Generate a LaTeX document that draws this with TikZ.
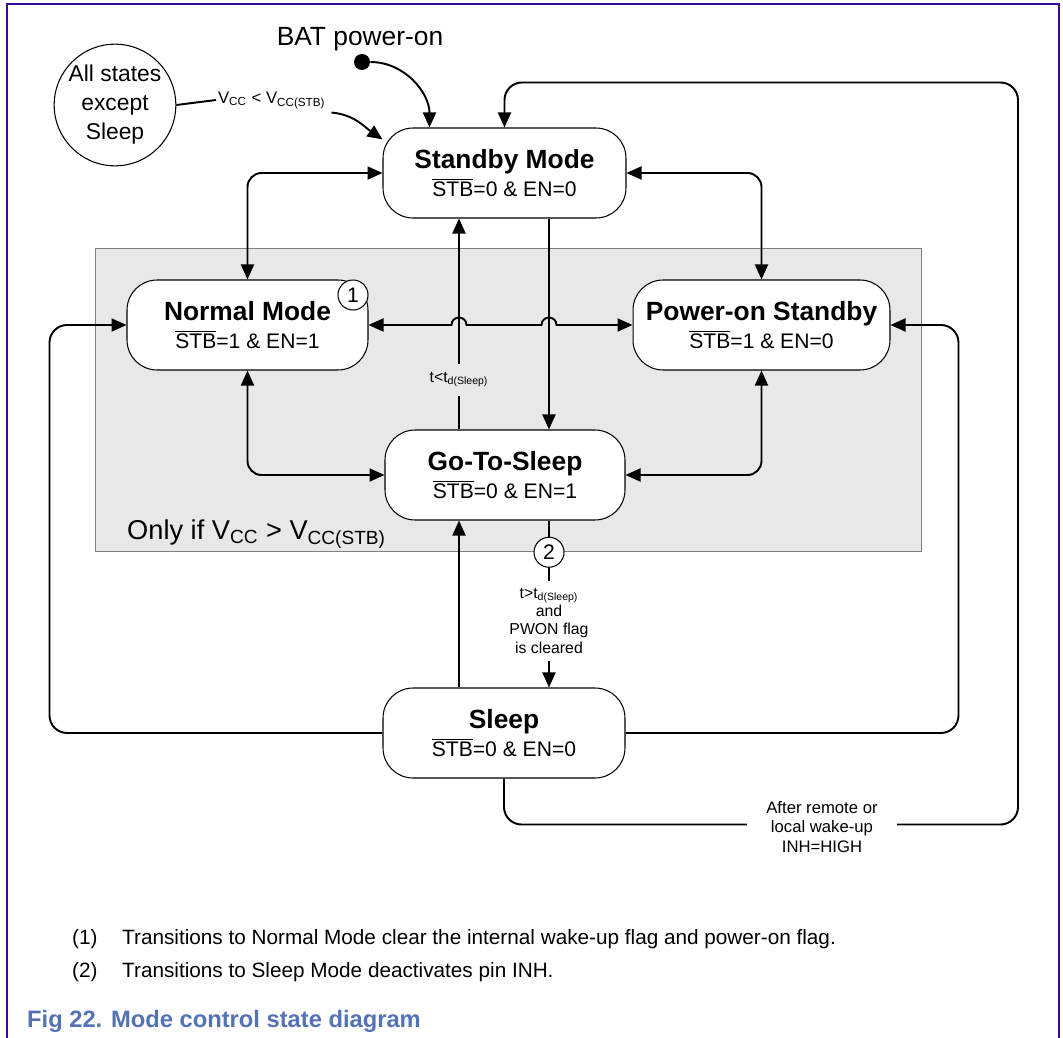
\documentclass[tikz,border=0pt]{standalone}
\usepackage{fontspec}
\setmainfont{Liberation Sans}
\usetikzlibrary{arrows.meta, positioning, fit, calc, backgrounds}
\definecolor{FramePurple}{RGB}{60,10,150}
\definecolor{ZoneGray}{RGB}{232,232,232}
\definecolor{CapBlue}{RGB}{84,114,182}
\newcommand{\nstb}{$\overline{\mbox{STB}}$}
\newcommand{\sname}[1]{{\fontsize{15}{16}\selectfont\bfseries #1}}

\begin{document}
\begin{tikzpicture}[x=0.02cm, y=0.02cm,
	st/.style={draw, line width=0.6pt, fill=white, rounded corners=0.6cm, align=center,
		inner sep=0pt, minimum height=1.8cm, font=\fontsize{12}{16}\selectfont},
	num/.style={circle, draw, line width=0.6pt, fill=white, minimum size=0.6cm, inner sep=0pt,
		font=\fontsize{12}{14}\selectfont},
	fl/.style={-{Triangle[length=3mm, width=2.6mm]}, line width=1.1pt},
	dfl/.style={{Triangle[length=3mm, width=2.6mm]}-{Triangle[length=3mm, width=2.6mm]}, line width=1.1pt},
	ln/.style={line width=1.1pt},
	lbl/.style={font=\fontsize{9}{10.5}\selectfont, align=center, inner sep=1pt}]

	\useasboundingbox (0,0) rectangle (1063,-1038);

	% states
	\node[st, minimum width=4.86cm] (std) at (504.5,-173) {\sname{Standby Mode}\\\nstb=0 \& EN=0};
	\node[st, minimum width=4.82cm] (nrm) at (247.5,-325) {\sname{Normal Mode}\\\nstb=1 \& EN=1};
	\node[st, minimum width=5.14cm] (pon) at (761.5,-325) {\sname{Power-on Standby}\\\nstb=1 \& EN=0};
	\node[st, minimum width=4.8cm] (gts) at (505,-475) {\sname{Go-To-Sleep}\\\nstb=0 \& EN=1};
	\node[st, minimum width=4.84cm] (slp) at (504,-733) {\sname{Sleep}\\\nstb=0 \& EN=0};
	\node[num] (n1) at (353,-295) {1};

	\begin{scope}[on background layer]
		\node[draw=gray, line width=0.6pt, fill=ZoneGray, inner sep=0.62cm,
			fit=(nrm)(pon)(gts)] (zone) {};
	\end{scope}
	\node[anchor=base west, font=\fontsize{15.5}{18}\selectfont] (only)
		at ($(zone.south west)+(26,13)$) {Only if V\textsubscript{CC} > V\textsubscript{CC(STB)}};

	\coordinate (up) at ($(gts.north)+(-46,0)$);
	\coordinate (dn) at ($(gts.north)+(44,0)$);

	% power-on entries
	\node[circle, fill, inner sep=0pt, minimum size=0.32cm] (bat) at (362,-62) {};
	\node[anchor=base, font=\fontsize{15}{18}\selectfont] (batlbl) at (360,-45) {BAT power-on};
	\draw[fl] (bat) to[out=0, in=90] ($(std.north west)+(47,0)$);

	\node[circle, draw, line width=0.6pt, align=center, minimum size=1.96cm, inner sep=0pt,
		font=\fontsize{13}{16.5}\selectfont] (all) at (115,-105) {All states\\except\\Sleep};
	\node[lbl, font=\fontsize{9.5}{11}\selectfont, anchor=west] (vccl) at (216,-100)
		{V\textsubscript{CC} < V\textsubscript{CC(STB)}};
	\draw[ln] (all.east) -- (vccl.west);
	\draw[fl] ($(vccl.south east)+(4,-2)$) to[out=-5, in=145] ($(std.north west)+(0,-12)$);

	% transitions
	\draw[dfl, rounded corners=8pt] (std.west) -| (nrm.north);
	\draw[dfl, rounded corners=8pt] (std.east) -| (pon.north);
	\draw[dfl, rounded corners=8pt] (nrm.south) |- (gts.west);
	\draw[dfl, rounded corners=8pt] (pon.south) |- (gts.east);
	\draw[dfl] (nrm.east) -- ($(nrm.east -| up)+(-7.5,0)$) arc[start angle=180, end angle=0, radius=7.5]
		-- ($(nrm.east -| dn)+(-7.5,0)$) arc[start angle=180, end angle=0, radius=7.5] -- (pon.west);

	\draw[fl] (gts.north -| up) -- node[lbl, fill=ZoneGray, pos=0.236, inner ysep=5pt]
		{t<t\textsubscript{d(Sleep)}} (std.south -| up);
	\draw[fl] (std.south -| dn) -- (gts.north -| dn);

	\draw[fl] (gts.south -| dn) -- node[num, pos=0.19] (n2) {2}
		node[lbl, fill=white, pos=0.6, inner ysep=4pt]
		{t>t\textsubscript{d(Sleep)}\\and\\PWON flag\\is cleared} (slp.north -| dn);
	\draw[fl] (slp.north -| up) -- (gts.south -| up);

	\draw[fl, rounded corners=10pt] (slp.west) -| ($(nrm.west)+(-77,0)$) -- (nrm.west);
	\draw[fl, rounded corners=10pt] (slp.east) -| ($(pon.east)+(68,0)$) -- (pon.east);
	\draw[fl, rounded corners=10pt] (slp.south) |- ($(slp.south)+(514,-46)$)
		|- ($(std.north)+(0,45)$) -- (std.north);
	\node[lbl, fill=white, inner xsep=11pt, font=\fontsize{9.5}{11}\selectfont] (wk)
		at (822,-827) {After remote or\\local wake-up\\INH=HIGH};

	% notes and caption
	\node[anchor=base west, font=\fontsize{11.8}{14}\selectfont] (fn1) at (66,-944) {(1)};
	\node[anchor=base west, font=\fontsize{11.8}{14}\selectfont] (fn1t) at (116,-944)
		{Transitions to Normal Mode clear the internal wake-up flag and power-on flag.};
	\node[anchor=base west, font=\fontsize{11.8}{14}\selectfont] (fn2) at (66,-977) {(2)};
	\node[anchor=base west, font=\fontsize{11.8}{14}\selectfont] (fn2t) at (116,-977)
		{Transitions to Sleep Mode deactivates pin INH.};
	\node[anchor=base west, font=\fontsize{13.5}{16}\selectfont\bfseries, text=CapBlue] (cap)
		at (21,-1027) {Fig 22. Mode control state diagram};

	\draw[FramePurple, line width=1pt] (7,-1038) -- (7,-4) -- (1059,-4) -- (1059,-1038);
\end{tikzpicture}
\end{document}
